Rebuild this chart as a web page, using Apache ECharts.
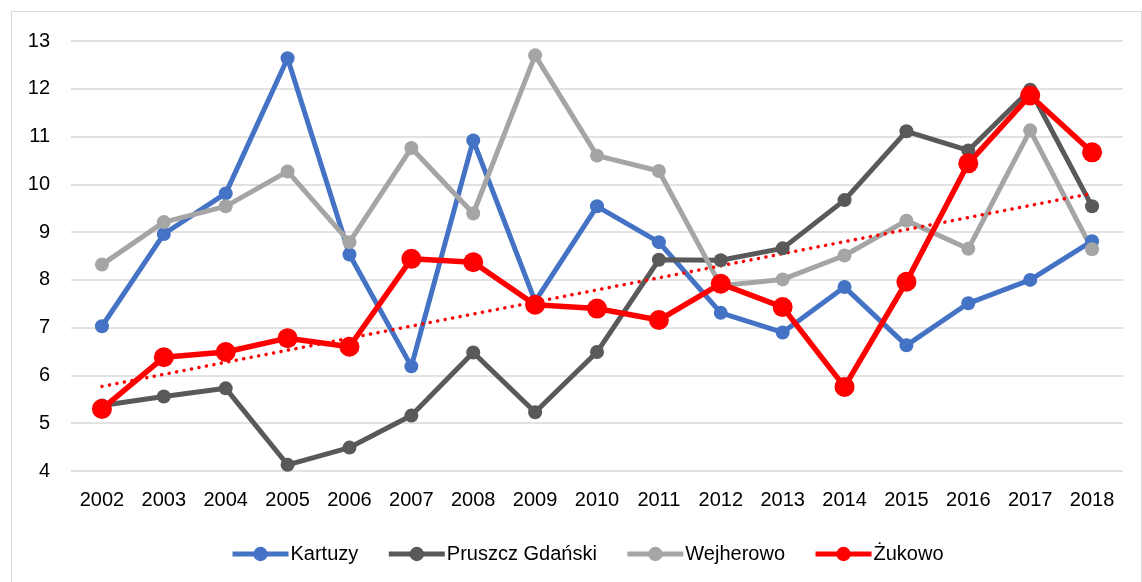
<!DOCTYPE html>
<html>
<head>
<meta charset="utf-8">
<script src="https://cdn.jsdelivr.net/npm/echarts@6/dist/echarts.min.js"></script>
<style>
  html, body { margin: 0; padding: 0; background: #fff; overflow: hidden; }
  #chart { width: 1142px; height: 582px; }
  .frame {
    position: absolute; left: 11px; top: 11px; width: 1129px; height: 600px;
    border: 1px solid #d9d9d9; pointer-events: none;
  }
</style>
</head>
<body>
<div id="chart"></div>
<div class="frame"></div>
<script>
const years = ['2002', '2003', '2004', '2005', '2006', '2007', '2008', '2009', '2010',
  '2011', '2012', '2013', '2014', '2015', '2016', '2017', '2018']

const kartuzy = [7.03, 8.96, 9.81, 12.64, 8.53, 6.19, 10.92, 7.55, 9.54, 8.79, 7.31, 6.90, 7.85, 6.63, 7.51, 8.00, 8.81]
const pruszcz = [5.37, 5.56, 5.73, 4.13, 4.49, 5.16, 6.48, 5.23, 6.49, 8.42, 8.41, 8.66, 9.67, 11.11, 10.71, 11.98, 9.54]
const wejherowo = [8.32, 9.21, 9.54, 10.27, 8.79, 10.76, 9.39, 12.70, 10.60, 10.28, 7.88, 8.01, 8.51, 9.24, 8.65, 11.13, 8.64]
const zukowo = [5.30, 6.38, 6.49, 6.78, 6.60, 8.44, 8.37, 7.48, 7.40, 7.16, 7.92, 7.43, 5.76, 7.96, 10.44, 11.86, 10.67]
// trend line for Żukowo, only the two ends
const zukowoTrend = [5.77, null, null, null, null, null, null, null, null,
  null, null, null, null, null, null, null, 9.81]

const font = '"Liberation Sans", Arial, sans-serif'

function lineSeries(name, data, color, size, width) {
  return {
    name: name,
    type: 'line',
    data: data,
    symbol: 'circle',
    symbolSize: size,
    lineStyle: { color: color, width: width },
    itemStyle: { color: color },
    emphasis: { disabled: true }
  }
}

const chart = echarts.init(document.getElementById('chart'))
chart.setOption({
  animation: false,
  textStyle: { fontFamily: font },
  grid: { left: 71, right: 19, top: 41, bottom: 111 },
  legend: {
    data: ['Kartuzy', 'Pruszcz Gdański', 'Wejherowo', 'Żukowo'],
    left: 225,
    top: 539,
    itemWidth: 56,
    itemHeight: 18,
    itemGap: 28,
    lineStyle: { width: 5 },
    textStyle: { fontSize: 20, color: '#000', fontFamily: font, padding: [0, 0, 0, -3] }
  },
  xAxis: {
    type: 'category',
    data: years,
    axisLine: { show: false },
    axisTick: { show: false },
    axisLabel: { fontSize: 20, color: '#000', margin: 19, interval: 0, fontFamily: font }
  },
  yAxis: {
    type: 'value',
    min: 4,
    max: 13,
    interval: 1,
    axisLine: { show: false },
    axisTick: { show: false },
    axisLabel: { fontSize: 20, color: '#000', margin: 21, fontFamily: font },
    splitLine: { lineStyle: { color: '#d9d9d9', width: 1.5 } }
  },
  series: [
    lineSeries('Kartuzy', kartuzy, '#4472c4', 14, 5),
    lineSeries('Pruszcz Gdański', pruszcz, '#595959', 14, 5),
    lineSeries('Wejherowo', wejherowo, '#a5a5a5', 14, 5),
    {
      name: 'trend',
      type: 'line',
      data: zukowoTrend,
      connectNulls: true,
      symbol: 'none',
      lineStyle: { color: '#ff0000', width: 3.5, type: [0.1, 7.5], cap: 'round' },
      emphasis: { disabled: true }
    },
    lineSeries('Żukowo', zukowo, '#ff0000', 20, 5.5)
  ]
})
</script>
</body>
</html>
